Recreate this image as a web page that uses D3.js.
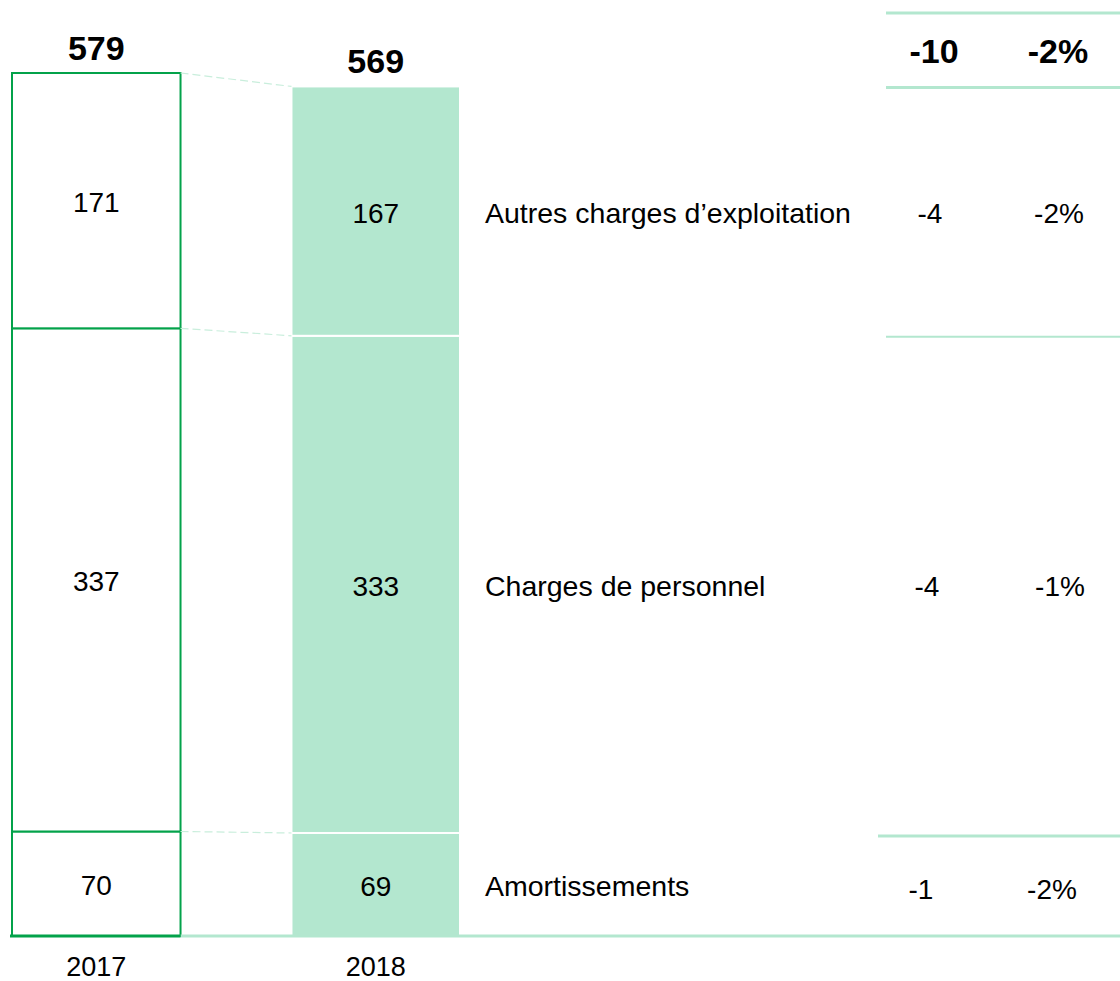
<!DOCTYPE html>
<html>
<head>
<meta charset="utf-8">
<script src="https://cdn.jsdelivr.net/npm/d3@7"></script>
<style>
  body { margin: 0; background: #fff; }
  text { font-family: "Liberation Sans", Arial, sans-serif; fill: #000; }
</style>
</head>
<body>
<script>
// Data (stacked bottom -> top)
var years = ["2017", "2018"];
var categories = ["Amortissements", "Charges de personnel", "Autres charges d\u2019exploitation"];
var values2017 = [70, 337, 171];
var values2018 = [69, 333, 167];
var totals = [579, 569];   // as printed (rounded)
var diffs = ["-1", "-4", "-4"];
var pcts = ["-2%", "-1%", "-2%"];
var totalDiff = "-10";
var totalPct = "-2%";

var svgWidth = 1120;
var svgHeight = 981;

var darkGreen = "#03a24a";
var lightGreen = "#b3e7cf";

var svg = d3.select("body")
  .append("svg")
  .attr("width", svgWidth)
  .attr("height", svgHeight);

var sum2017 = d3.sum(values2017);
var sum2018 = d3.sum(values2018);

// scales
var x = d3.scaleBand()
  .domain(years)
  .range([12, 460])
  .paddingInner(0.397);

var y = d3.scaleLinear()
  .domain([0, sum2017])
  .range([936, 73]);

// build stacked segments
function stackUp(vals) {
  var acc = 0;
  return vals.map(function(v, i) {
    var seg = { i: i, value: v, y0: acc, y1: acc + v };
    acc += v;
    return seg;
  });
}
var seg2017 = stackUp(values2017);
var seg2018 = stackUp(values2018);

// 2017 bars: outlined
svg.append("g").selectAll("rect")
  .data(seg2017)
  .enter()
  .append("rect")
  .attr("x", x("2017"))
  .attr("y", d => y(d.y1))
  .attr("width", x.bandwidth())
  .attr("height", d => y(d.y0) - y(d.y1))
  .attr("fill", "white")
  .attr("stroke", darkGreen)
  .attr("stroke-width", 2);

// 2018 bars: filled
svg.append("g").selectAll("rect")
  .data(seg2018)
  .enter()
  .append("rect")
  .attr("x", x("2018"))
  .attr("y", d => y(d.y1))
  .attr("width", x.bandwidth())
  .attr("height", d => y(d.y0) - y(d.y1))
  .attr("fill", lightGreen)
  .attr("stroke", "white")
  .attr("stroke-width", 2);

// dashed connectors between segment tops
svg.append("g").selectAll("line")
  .data(seg2017)
  .enter()
  .append("line")
  .attr("x1", x("2017") + x.bandwidth())
  .attr("y1", d => y(d.y1))
  .attr("x2", x("2018"))
  .attr("y2", (d, i) => y(seg2018[i].y1))
  .attr("stroke", "#c9eedc")
  .attr("stroke-width", 1.2)
  .attr("stroke-dasharray", "8,4");

// baseline
svg.append("line")
  .attr("x1", x("2017") + x.bandwidth()).attr("x2", svgWidth)
  .attr("y1", y(0)).attr("y2", y(0))
  .attr("stroke", lightGreen).attr("stroke-width", 3);
svg.append("line")
  .attr("x1", 10).attr("x2", x("2017") + x.bandwidth())
  .attr("y1", y(0)).attr("y2", y(0))
  .attr("stroke", darkGreen).attr("stroke-width", 3);

// segment values
svg.append("g").selectAll("text")
  .data(seg2017)
  .enter()
  .append("text")
  .attr("x", x("2017") + x.bandwidth() / 2)
  .attr("y", d => (y(d.y0) + y(d.y1)) / 2 + 11)
  .attr("text-anchor", "middle")
  .style("font-size", "28px")
  .text(d => d.value);

svg.append("g").selectAll("text")
  .data(seg2018)
  .enter()
  .append("text")
  .attr("x", x("2018") + x.bandwidth() / 2)
  .attr("y", d => (y(d.y0) + y(d.y1)) / 2 + 12)
  .attr("text-anchor", "middle")
  .style("font-size", "28px")
  .text(d => d.value);

// totals
svg.append("g").selectAll("text")
  .data(totals)
  .enter()
  .append("text")
  .attr("x", (d, i) => x(years[i]) + x.bandwidth() / 2)
  .attr("y", (d, i) => y(i === 0 ? sum2017 : sum2018) - 13)
  .attr("text-anchor", "middle")
  .style("font-size", "34px").style("font-weight", "bold")
  .text(d => d);

// year labels
svg.append("g").selectAll("text")
  .data(years)
  .enter()
  .append("text")
  .attr("x", d => x(d) + x.bandwidth() / 2)
  .attr("y", 976)
  .attr("text-anchor", "middle")
  .style("font-size", "27px")
  .text(d => d);

// category labels and deltas
var rowMid = seg2018.map(d => (y(d.y0) + y(d.y1)) / 2 + 12);

svg.append("g").selectAll("text")
  .data(categories)
  .enter()
  .append("text")
  .attr("x", 485)
  .attr("y", (d, i) => rowMid[i])
  .style("font-size", "28.5px")
  .text(d => d);

var diffX = [921, 927, 930];
var pctX = [1052, 1060, 1059];

svg.append("g").selectAll("text")
  .data(diffs)
  .enter()
  .append("text")
  .attr("x", (d, i) => diffX[i])
  .attr("y", (d, i) => rowMid[i] + (i === 0 ? 3 : 0))
  .attr("text-anchor", "middle")
  .style("font-size", "28px")
  .text(d => d);

svg.append("g").selectAll("text")
  .data(pcts)
  .enter()
  .append("text")
  .attr("x", (d, i) => pctX[i])
  .attr("y", (d, i) => rowMid[i] + (i === 0 ? 3 : 0))
  .attr("text-anchor", "middle")
  .style("font-size", "28px")
  .text(d => d);

// header row
svg.append("text")
  .attr("x", 934).attr("y", 63)
  .attr("text-anchor", "middle")
  .style("font-size", "34px").style("font-weight", "bold")
  .text(totalDiff);
svg.append("text")
  .attr("x", 1058).attr("y", 63)
  .attr("text-anchor", "middle")
  .style("font-size", "34px").style("font-weight", "bold")
  .text(totalPct);

// table separator lines
svg.append("line")
  .attr("x1", 886).attr("x2", svgWidth)
  .attr("y1", 13).attr("y2", 13)
  .attr("stroke", lightGreen).attr("stroke-width", 3);

svg.append("g").selectAll("line")
  .data(seg2018)
  .enter()
  .append("line")
  .attr("x1", (d, i) => i === 0 ? 878 : 886)
  .attr("x2", svgWidth)
  .attr("y1", d => y(d.y1) + (d.i === 0 ? 3 : 1))
  .attr("y2", d => y(d.y1) + (d.i === 0 ? 3 : 1))
  .attr("stroke", lightGreen)
  .attr("stroke-width", d => d.i === 1 ? 2 : 3);
</script>
</body>
</html>
